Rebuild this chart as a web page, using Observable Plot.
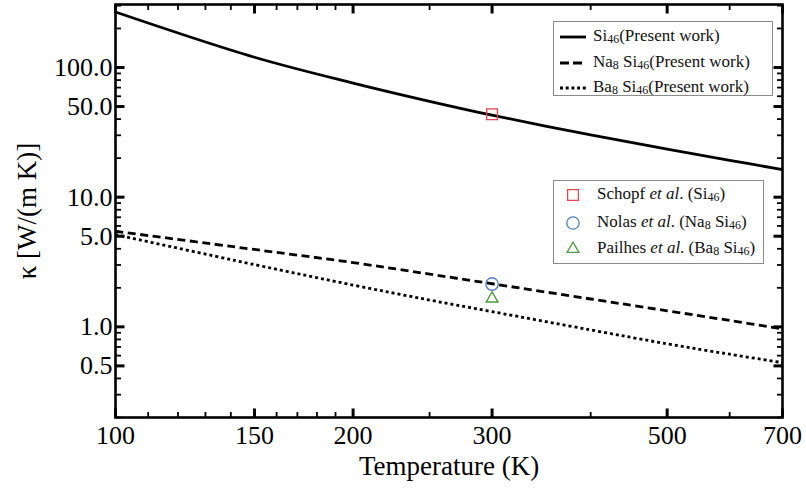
<!DOCTYPE html>
<html><head><meta charset="utf-8">
<script src="https://cdn.jsdelivr.net/npm/d3@7"></script>
<script src="https://cdn.jsdelivr.net/npm/@observablehq/plot@0.6"></script>
<style>
body{margin:0;background:#fff;}
#wrap{position:relative;width:806px;height:493px;font-family:"Liberation Serif","Times New Roman",serif;}
.leg{position:absolute;box-sizing:border-box;border:1px solid #8a8a8a;background:#fff;font-size:17px;color:#111;}
.row{position:absolute;height:20px;line-height:20px;white-space:nowrap;}
.sw{position:absolute;}
.sw svg{display:block;}
sub{font-size:12px;vertical-align:-2px;line-height:0;}
</style></head><body><div id="wrap"></div>
<script>
// Thermal conductivity (W/(m K)) vs temperature (K)
const temps    = [100, 150, 200, 250, 300, 400, 500, 600, 700];
const kSi46    = [268, 120, 75.9, 54.9, 42.9, 30.2, 23.5, 19.25, 16.3];
const kNa8Si46 = [5.46, 3.95, 3.13, 2.55, 2.15, 1.64, 1.33, 1.12, 0.964];
const kBa8Si46 = [5.14, 3.02, 2.10, 1.61, 1.31, 0.947, 0.74, 0.615, 0.53];
const seriesNames = ["Si46", "Na8Si46", "Ba8Si46"];
const seriesLabels = ["Si<sub>46</sub>(Present work)", "Na<sub>8</sub> Si<sub>46</sub>(Present work)", "Ba<sub>8</sub> Si<sub>46</sub>(Present work)"];

const expT = [300, 300, 300];
const expK = [43.6, 2.14, 1.65];
const expNames = ["Schopf", "Nolas", "Pailhes"];
const expLabels = ["Schopf <i>et al</i>. (Si<sub>46</sub>)", "Nolas <i>et al</i>. (Na<sub>8</sub> Si<sub>46</sub>)", "Pailhes <i>et al</i>. (Ba<sub>8</sub> Si<sub>46</sub>)"];

const xMajor = [100, 150, 200, 300, 500, 700];
const xMinor = [110, 120, 130, 140, 160, 170, 180, 190, 250, 400, 600];
const yMajor = [0.5, 1, 5, 10, 50, 100];
const yMinor = [0.2, 0.3, 0.4, 0.6, 0.7, 0.8, 0.9, 2, 3, 4, 6, 7, 8, 9, 20, 30, 40, 60, 70, 80, 90, 200, 300];

const lineStyles = {Si46: null, Na8Si46: "8,4.5", Ba8Si46: "3,3"};
const expSymbols = {Schopf: d3.symbolSquare, Nolas: d3.symbolCircle, Pailhes: d3.symbolTriangle};
const expColors = {Schopf: "#e0474f", Nolas: "#4a80c0", Pailhes: "#4f9c43"};
const expR = {Schopf: 6.1, Nolas: 6.2, Pailhes: 4.4};

const W = 806, H = 493, mL = 115, mR = 24, mT = 4, mB = 76;

const curves = [kSi46, kNa8Si46, kBa8Si46].map((ks, i) => ks.map((k, j) => ({T: temps[j], k, s: seriesNames[i]})));
const expData = expNames.map((n, i) => ({T: expT[i], k: expK[i], n}));

// inward tick glyphs: custom symbols drawn at the frame edges
const tickSym = (dx, dy) => ({draw(ctx) { ctx.moveTo(0, 0); ctx.lineTo(dx, dy); }});
const tickMarks = [];
for (const [vals, len, sw] of [[xMajor, 9, 3], [xMinor, 5.5, 1.8]]) {
  tickMarks.push(Plot.dot(vals, {x: d => d, frameAnchor: "bottom", symbol: tickSym(0, -len), stroke: "black", fill: "none", strokeWidth: sw}));
  tickMarks.push(Plot.dot(vals, {x: d => d, frameAnchor: "top", symbol: tickSym(0, len), stroke: "black", fill: "none", strokeWidth: sw}));
}
for (const [vals, len, sw] of [[yMajor, 9, 3], [yMinor, 5.5, 1.8]]) {
  tickMarks.push(Plot.dot(vals, {y: d => d, frameAnchor: "left", symbol: tickSym(len, 0), stroke: "black", fill: "none", strokeWidth: sw}));
  tickMarks.push(Plot.dot(vals, {y: d => d, frameAnchor: "right", symbol: tickSym(-len, 0), stroke: "black", fill: "none", strokeWidth: sw}));
}

const chart = Plot.plot({
  width: W, height: H,
  marginLeft: mL, marginRight: mR, marginTop: mT, marginBottom: mB,
  style: {fontFamily: '"Liberation Serif", "Times New Roman", serif', color: "#000", background: "#fff"},
  x: {type: "log", domain: [100, 700], axis: null},
  y: {type: "log", domain: [0.2, 306], axis: null},
  marks: [
    ...curves.map(c => Plot.line(c, {x: "T", y: "k", stroke: "#000", strokeWidth: 2.8, strokeLinecap: "butt", strokeDasharray: lineStyles[c[0].s], curve: "catmull-rom"})),
    ...expData.map(d => Plot.dot([d], {x: "T", y: "k", symbol: expSymbols[d.n], r: expR[d.n], stroke: expColors[d.n], fill: "none", strokeWidth: 1.4})),
    ...tickMarks,
    Plot.text(xMajor, {x: d => d, frameAnchor: "bottom", dy: 18, text: d => String(d), fontSize: 26, fill: "#000", lineAnchor: "middle"}),
    Plot.text(yMajor, {y: d => d, frameAnchor: "left", dx: -3, text: d3.format(".1f"), fontSize: 26, fill: "#000", textAnchor: "end"}),
    Plot.text(["Temperature (K)"], {frameAnchor: "bottom", dy: 49, text: d => d, fontSize: 27, fill: "#000", textAnchor: "middle", lineAnchor: "middle"}),
    Plot.text(["κ [W/(m K)]"], {frameAnchor: "left", dx: -88, rotate: -90, text: d => d, fontSize: 27, fill: "#000", textAnchor: "middle", lineAnchor: "middle"}),
    Plot.frame({strokeWidth: 2.6})
  ]
});
const wrap = document.getElementById("wrap");
wrap.appendChild(chart);

// Legend 1: model curves
const leg1 = document.createElement("div");
leg1.className = "leg";
Object.assign(leg1.style, {left: "553px", top: "21px", width: "220px", height: "75px"});
const rowY1 = [15, 41, 66];
seriesNames.forEach((s, i) => {
  const sw = document.createElement("div");
  sw.className = "sw";
  Object.assign(sw.style, {left: "6px", top: (rowY1[i] - 3) + "px"});
  sw.innerHTML = `<svg width="26" height="6"><line x1="0" x2="26" y1="3" y2="3" stroke="#000" stroke-width="2.8" ${lineStyles[s] ? `stroke-dasharray="${i === 1 ? "9,4" : "3,2.7"}"` : ""}/></svg>`;
  leg1.appendChild(sw);
  const r = document.createElement("div");
  r.className = "row";
  Object.assign(r.style, {left: "39px", top: (rowY1[i] - 11) + "px"});
  r.innerHTML = seriesLabels[i];
  leg1.appendChild(r);
});
wrap.appendChild(leg1);

// Legend 2: experiments
const leg2 = document.createElement("div");
leg2.className = "leg";
Object.assign(leg2.style, {left: "553px", top: "180px", width: "211px", height: "84px"});
const rowY2 = [14, 42, 68];
expNames.forEach((n, i) => {
  const sw = document.createElement("div");
  sw.className = "sw";
  Object.assign(sw.style, {left: "10px", top: (rowY2[i] - 9) + "px"});
  const sym = d3.symbol(expSymbols[n], Math.PI * expR[n] * expR[n])();
  sw.innerHTML = `<svg width="18" height="18"><path transform="translate(9,9)" d="${sym}" fill="none" stroke="${expColors[n]}" stroke-width="1.3"/></svg>`;
  leg2.appendChild(sw);
  const r = document.createElement("div");
  r.className = "row";
  Object.assign(r.style, {left: "43px", top: (rowY2[i] - 11) + "px"});
  r.innerHTML = expLabels[i];
  leg2.appendChild(r);
});
wrap.appendChild(leg2);
</script>
</body></html>
